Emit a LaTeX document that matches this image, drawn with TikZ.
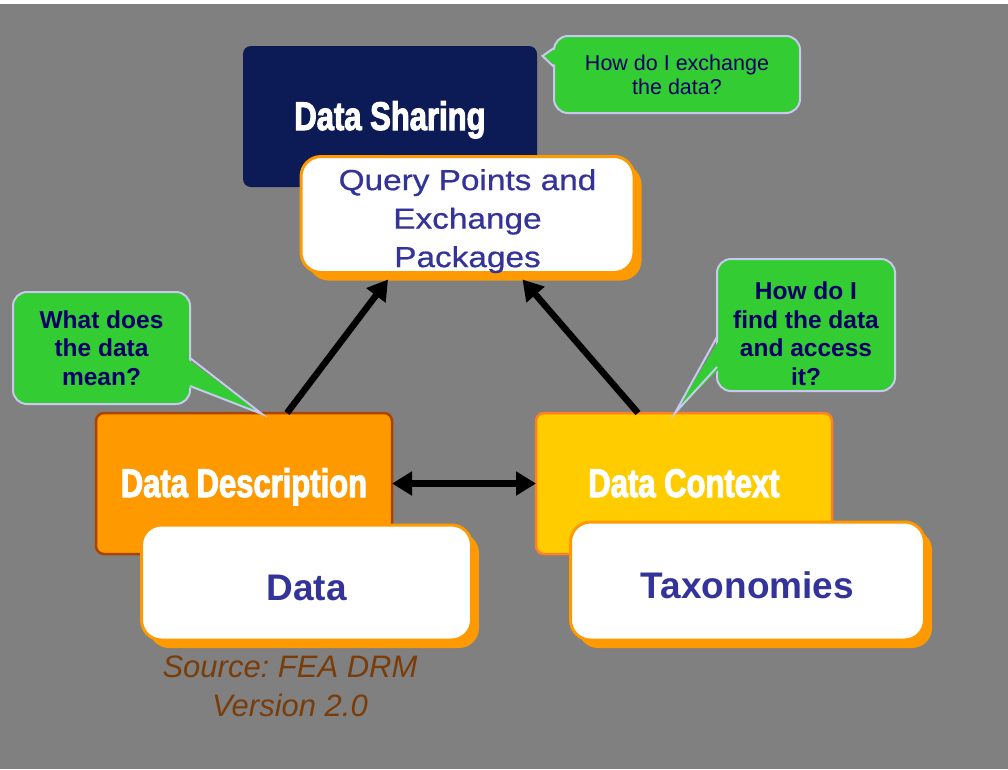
\documentclass[tikz,border=0pt]{standalone}
\usepackage{fontspec}
\setmainfont{Liberation Sans}
\newfontfamily\headfont[FakeStretch=0.775,FakeBold=2.5]{Liberation Sans}
\newfontfamily\widefont[FakeStretch=1.15,FakeBold=0.6]{Liberation Sans}
\usetikzlibrary{arrows.meta,calc,shadows}
\frenchspacing

\definecolor{bggray}{HTML}{808080}
\definecolor{sharenavy}{HTML}{0C1A56}
\definecolor{askgreen}{HTML}{33CC33}
\definecolor{askrim}{HTML}{C8C8F0}
\definecolor{asktext}{HTML}{000066}
\definecolor{panelorange}{HTML}{FF9900}
\definecolor{paneltext}{HTML}{333399}
\definecolor{descfill}{HTML}{FF9900}
\definecolor{descrim}{HTML}{A84300}
\definecolor{ctxfill}{HTML}{FFCC00}
\definecolor{ctxrim}{HTML}{FF7F27}
\definecolor{srcbrown}{HTML}{7A3D0A}

\tikzset{
  head/.style={rectangle, rounded corners=8pt, minimum width=294pt, minimum height=141pt,
    inner sep=0pt, outer sep=0pt, text=white,
    font=\headfont\bfseries\fontsize{40}{44}\selectfont, text height=29pt, text depth=2pt},
  panel/.style={rectangle, rounded corners=20pt, fill=white, draw=panelorange, line width=3pt,
    inner sep=0pt, outer sep=0pt,
    drop shadow={shadow xshift=7.5pt, shadow yshift=-8pt, fill=panelorange, opacity=1}},
  paneltxt/.style={text=paneltext, font=\bfseries\fontsize{37}{40}\selectfont,
    text height=35pt, text depth=0pt},
  ask/.style={rectangle, rounded corners=14pt, fill=askgreen, draw=askrim, line width=2pt,
    inner sep=0pt, outer sep=0pt, text=asktext, align=center},
  asktail/.style={draw=askrim, line width=2pt, line join=miter},
  link/.style={line width=6.5pt, -{Triangle[length=20pt,width=23pt]}}
}

\begin{document}
\begin{tikzpicture}[x=1pt, y=-1pt]
  \useasboundingbox (0,0) rectangle (1008,769);
  \fill[white] (0,0) rectangle (1008,4);
  \fill[bggray] (0,4) rectangle (1008,769);

  % Draw blocks
  \node[head, fill=sharenavy] (share) at (390,116.5) {Data Sharing};
  \node[head, fill=descfill, draw=descrim, line width=2.5pt, minimum width=296pt] (desc) at (244,483.5) {Data Description};
  \node[head, fill=ctxfill, draw=ctxrim, line width=2.5pt, minimum width=296pt] (ctx) at (684,483.5) {Data Context};

  % white boxes in front
  \node[panel, minimum width=333pt, minimum height=116pt] (query) at (467.5,214.5) {};
  \node[text=paneltext, font=\widefont\fontsize{29}{38.5}\selectfont, align=center, inner sep=0pt] (querytxt) at (467.5,221.1) {Query Points and\\Exchange\\Packages};
  \node[panel, paneltxt, minimum width=330pt, minimum height=115pt] (data) at (306.5,582.5) {Data};
  \node[panel, paneltxt, minimum width=354pt, minimum height=118pt] (tax) at (747.5,581) {Taxonomies};

  \node[text=srcbrown, font=\itshape\fontsize{31}{39}\selectfont, align=center, inner sep=0pt] (src) at (290,686.3) {Source: FEA DRM\\Version 2.0};

  % arrows
  \draw[link] ($(desc.north west)+(191,0)$) -- ($(query.south)+(-79.5,7)$);
  \draw[link] ($(ctx.north west)+(102,0)$) -- ($(query.south)+(55,7)$);
  \draw[link, {Triangle[length=20pt,width=23pt]}-{Triangle[length=20pt,width=23pt]}] (desc.east) -- (ctx.west);

  % question bubbles
  \node[ask, minimum width=246pt, minimum height=77pt, font=\fontsize{21.5}{24}\selectfont] (q1) at (677,74.5) {How do I exchange\\the data?};
  \node[ask, minimum width=177pt, minimum height=112pt, font=\bfseries\fontsize{24.5}{28.5}\selectfont] (q2) at (101.5,348) {What does\\the data\\mean?};
  \node[ask, minimum width=178pt, minimum height=132pt] (q3) at (806,325) {};
  \node[text=asktext, align=center, inner sep=0pt, font=\bfseries\fontsize{24.5}{28.5}\selectfont] (q3txt) at (806,333.7) {How do I\\find the data\\and access\\it?};

  % bubble tails
  \coordinate (q1tip) at (542.5,56);
  \coordinate (q2tip) at ($(desc.north west)+(166,1)$);
  \coordinate (q3tip) at ($(ctx.north west)+(139,0)$);
  \fill[askgreen] ($(q1.west)+(4,-26.5)$) -- (q1tip) -- ($(q1.west)+(4,-7.5)$) -- cycle;
  \draw[asktail] ($(q1.west)+(0,-26.5)$) -- (q1tip) -- ($(q1.west)+(0,-7.5)$);
  \fill[askgreen] ($(q2.east)+(-4,10)$) -- (q2tip) -- ($(q2.east)+(-4,38)$) -- cycle;
  \draw[asktail] ($(q2.east)+(0,10)$) -- (q2tip) -- ($(q2.east)+(0,38)$);
  \fill[askgreen] ($(q3.west)+(4,12)$) -- (q3tip) -- ($(q3.west)+(4,42)$) -- cycle;
  \draw[asktail] ($(q3.west)+(0,12)$) -- (q3tip) -- ($(q3.west)+(0,42)$);
\end{tikzpicture}
\end{document}
